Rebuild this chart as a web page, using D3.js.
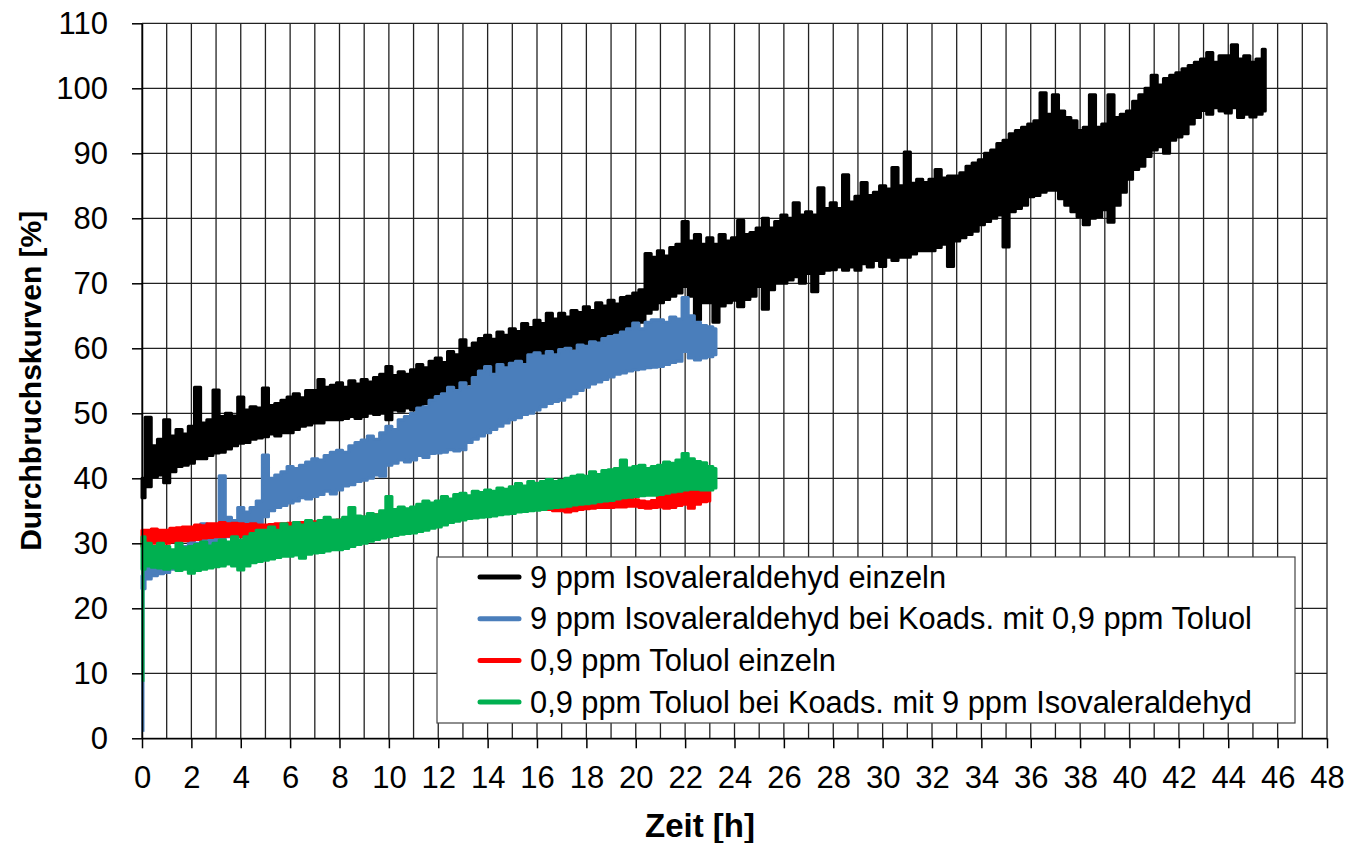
<!DOCTYPE html>
<html>
<head>
<meta charset="utf-8">
<script src="https://cdn.jsdelivr.net/npm/d3@7"></script>
<style>
  body { margin: 0; background: #fff; }
  svg { display: block; font-family: Arial, "Liberation Sans", sans-serif; }
</style>
</head>
<body>
<div id="chart"></div>
<script>
// Durchbruchskurven – Isovaleraldehyd / Toluol, Einzel- und Koadsorption
const xTicks = [0,2,4,6,8,10,12,14,16,18,20,22,24,26,28,30,32,34,36,38,40,42,44,46,48];
const xGrid  = [0,1,2,3,4,5,6,7,8,9,10,11,12,13,14,15,16,17,18,19,20,21,22,23,24,25,26,27,28,29,30,31,32,33,34,35,36,37,38,39,40,41,42,43,44,45,46,47,48];
const yTicks = [0,10,20,30,40,50,60,70,80,90,100,110];

const seriesNames = [
  "9 ppm Isovaleraldehyd einzeln",
  "9 ppm Isovaleraldehyd bei Koads. mit 0,9 ppm Toluol",
  "0,9 ppm Toluol einzeln",
  "0,9 ppm Toluol bei Koads. mit 9 ppm Isovaleraldehyd"
];
const seriesColors = ["#000000", "#4a7ebb", "#ff0000", "#00b050"];

// Messwerte alle 0,25 h: untere und obere Grenze des Rauschbandes [%]
const DT = 0.25;

// schwarz: 9 ppm Isovaleraldehyd einzeln (0 .. 45,5 h)
const blackHi = [
  40,49.4,45,46, 49,46.5,47.5,46.8, 48,54,48.5,49, 53.6,49.5,50,49.6,
  52.5,50.5,51,50.8, 53.9,51.2,51.5,52, 52.5,53,52.4,53.5, 53.5,55.2,54,54.3,
  54.7,54,55,54.5, 55.2,54.8,55.5,56, 57.2,55.8,56.4,56, 56.7,57.5,57,58,
  58.5,57.8,59.5,59, 61.3,60,60.8,61.5, 62,61.4,62.5,62, 63,62.6,63.8,63.2,
  64.3,63.8,65.4,64.5, 65.4,64.8,65.8,65.5, 66.4,65.8,67,66.5, 67.4,66.8,67.8,68,
  68.5,69,74.6,74, 75,74.2,75.5,76, 79.5,76.5,77.5,76, 77,76,77.5,76.5,
  77,79.7,77.5,77.8, 78.5,80,78.5,79.5, 80.5,80,82.4,80.5, 81,80.5,84.7,81.5,
  82.4,81.5,86.7,82.5, 83.4,85.5,83.5,84, 85,84.5,87.8,85, 90.2,85.4,86,85.5,
  86,87.5,86.2,86.5, 86.5,87,88,88.5, 89,90,90.5,91.5, 92,93,93.5,94,
  94.5,95,99.3,96, 99,96.5,95.5,95, 93.5,94,99,94, 94.5,99,95.5,96,
  96.5,98,99,100, 102,100.5,101.5,102, 102.4,103,103.5,104, 104.5,105.5,104,105,
  105,106.7,104.5,105, 104,104.5,106
];
const blackLo = [
  37,38.7,40.2,40.5, 39.3,41,41.8,42, 42.3,43,43,43.5, 43.9,44,44.5,45,
  45.4,45.5,46,46.2, 46.4,46.8,46.5,47, 47,47.5,48,48.2, 48.5,48.5,49,49,
  49,49.2,49.5,49.2, 49.5,50,49.8,50, 49,50.5,50.3,50.8, 50.5,51,51.5,51.8,
  51.6,52.5,53,53.5, 54,54.5,54.8,55, 55.6,55.5,56,56.2, 56.2,56.8,57,57.4,
  57.7,58,58.5,59, 59.3,59.5,60,60, 60.2,60.8,61,61.2, 61.3,62,62.3,62.8,
  63.3,64,65.4,66, 67,67.5,68,68.5, 69.5,68,64.4,67, 67,64,66.5,67,
  67.4,66.4,67.5,68, 69.5,66,69,70, 70,70.5,71,70, 71.5,68.7,71.5,72,
  72.1,72.5,72,72.5, 72,73,72.5,73.5, 72.6,74,73.5,74, 74,74.5,75,75,
  75,75.5,76,72.6, 76.5,77,77.5,78, 79,79.5,80,80.5, 75.6,81,81.5,82,
  83.3,83.5,84,84.3, 84.3,83,82,81, 80.2,79,80,80.2, 81.3,79.4,82,84,
  86,87.5,88,89.5, 90.5,91,90,92, 92.5,93,94.5,95.5, 96.6,96,97,96.5,
  96.2,97,95.5,96, 95.6,96,96.5
];

// blau: 9 ppm Isovaleraldehyd bei Koads. (0 .. 23,25 h)
const blueRise = [1, 23];
const blueHi = [
  25,26.5,27,27.5, 28.5,28,29,29.5, 30.5,30,33,31.5, 32.5,40.4,34,33.5,
  35.5,34.8,35.5,36.5, 43.6,40,40.5,41, 41.8,41.5,42,42.5, 43,42.8,43.5,44,
  44.3,44,45,45.5, 45.9,46.5,46,47, 48,47.5,49,49.5, 50,50.8,51,52,
  52.6,53,54,53.5, 54.7,54,55.5,56.5, 57.2,56,57.5,57, 57.7,58,57.5,59,
  59.3,58.8,59.5,59, 59.8,60,59.5,60.5, 60.3,61,60.8,61.5, 61.8,62,62.5,63,
  63.9,63,64,64.4, 64.4,64,64.8,64.5, 67.8,65,64,63.5, 63.3,63
];
const blueLo = [
  23,24.5,25,25.3, 25.5,26,26.5,27, 27.5,28,28.5,29, 30,30.5,31,31.5,
  32,32.5,33,33, 34.1,35,35.5,35.8, 36.2,36.5,37,36.8, 37.2,37.5,38,37.6,
  38.2,38.8,39,39.5, 39.7,40,40.5,40.3, 42,42.3,42.8,42.5, 42.8,43.5,43.2,43.8,
  43.9,44,44.4,44.2, 44.4,45.5,46,46.5, 47,47.5,48,48.5, 49,49.3,49.8,50,
  50.5,51,51.5,51.8, 52,52.5,53,53.5, 54,54.5,54.8,55.2, 55.6,56,56.2,56.5,
  56.7,56.8,57,57.1, 57.2,57.5,57.8,58, 59.5,58.5,58.2,58.5, 58.7,59
];

// rot: 0,9 ppm Toluol einzeln (0 .. 23 h)
const redHi = [
  32,32,32.2,32, 32,32.3,32.4,32.5, 32.5,32.8,32.7,33, 33,33.2,33,33.1,
  33,32.9,33,32.8, 32.8,32.9,33,33, 33.1,33,33.2,33.3, 33.3,33.4,33.5,33.5,
  33.6,33.7,33.8,34, 34,34.2,34.4,34.6, 34.8,35,35,35.2, 35.3,35.6,35.8,36,
  36.3,36.4,36.6,36.7, 36.8,37,37.2,37.4, 37.5,37.5,37.4,37.5, 37.5,37.6,37.7,37.7,
  37.8,37.6,37.5,37.6, 37.5,37.6,37.7,37.8, 37.8,37.9,38,38, 38,37.2,37,37,
  36.7,36.5,36.4,36.6, 37.2,37.5,37.8,38.2, 38.5,38,38.2,37.9, 38.3
];
const redLo = [
  29.5,29.8,30,30, 30,30.2,30.3,30.4, 30.5,30.6,30.8,30.9, 31,31,31.1,31,
  31,30.9,30.8,30.8, 30.8,31,31.2,31.4, 31.6,31.6,31.7,31.8, 31.8,31.9,32,32,
  32,32.1,32.3,32.4, 32.5,32.6,32.8,32.9, 33,33.1,33.3,33.4, 33.5,33.8,34,34.3,
  34.5,34.6,34.8,34.9, 35,35.1,35.3,35.4, 35.5,35.5,35.5,35.5, 35.5,35.5,35.4,35.5,
  35.5,35.3,35.2,35, 35,34.8,35,35.2, 35.3,35.4,35.5,35.5, 35.5,35.6,35.6,35.7,
  35.7,35.5,35.4,35.5, 35.6,35.4,35.5,35.8, 36,35.4,36,36.4, 36.5
];

// grün: 0,9 ppm Toluol bei Koads. (0 .. 23,25 h)
const greenRise = [8.7, 31];
const greenHi = [
  31,30,29.5,30, 29.5,29,30,29.3, 29.5,29.8,30.2,29.6, 30,30.5,30.2,31,
  30.5,31,31.5,32, 32,32.5,32,33, 32.5,33.2,32.8,33.5, 33.1,33.5,34,33.6,
  33.6,34,35.5,34.2, 34.1,34.6,34.4,35, 37.2,35.2,35.6,35.3, 35.6,36,36.5,36.2,
  36.5,37.2,36.8,37.5, 37.7,37.3,38,37.8, 38.2,38,38.5,38.3, 38.7,39.2,38.8,39.5,
  39.2,39.5,39.8,39.5, 39.7,40,40.3,40.5, 40.3,41,40.6,41.2, 41.3,41.5,42.8,41.6,
  41.8,42,41.5,41.8, 42,42.5,42.3,42.8, 43.8,43,42.6,42.4, 41.8,41.5
];
const greenLo = [
  26,26.5,26.3,26.2, 26,26.2,25.8,26, 25.4,25.8,26,26.2, 26.4,26.5,26.8,26.5,
  25.9,26.5,27,27.2, 27.4,27.6,27.8,28, 28,28.2,27.7,28.3, 28.5,28.6,28.8,29,
  29,29.2,29.5,29.8, 30,30.3,30.6,30.8, 31,31.2,31.4,31.5, 31.6,31.8,32,32.3,
  32.5,32.8,33.2,33.4, 33.6,33.8,33.9,34, 34.1,34.2,34.4,34.5, 34.6,34.8,34.9,35,
  35.1,35.2,35.4,35.5, 35.6,35.7,35.9,36, 36.1,36.2,36.4,36.5, 36.6,36.8,37,37.1,
  37.2,37.3,37.4,37.4, 37.5,37.7,37.9,38, 38.2,38.3,38.3,38.2, 38.2,38.5
];

const W = 1348, H = 843;
const svg = d3.select("#chart").append("svg").attr("width", W).attr("height", H);

const x = d3.scaleLinear().domain([0, 48]).range([142, 1327]);
const y = d3.scaleLinear().domain([0, 110]).range([738.3, 23.3]);

// Gitter
svg.append("g").selectAll("line").data(xGrid).join("line")
  .attr("x1", d => x(d)).attr("x2", d => x(d))
  .attr("y1", y(0)).attr("y2", y(110))
  .attr("stroke", "#222").attr("stroke-width", 1.3);
svg.append("g").selectAll("line").data(yTicks).join("line")
  .attr("x1", x(0)).attr("x2", x(48))
  .attr("y1", d => y(d)).attr("y2", d => y(d))
  .attr("stroke", "#222").attr("stroke-width", 1.3);

// Serien als Rauschband (Treppenkurve -> senkrechte Ausschläge wie im Original)
const band = (lo, hi) => lo.map((v, i) => ({ t: i * DT, lo: v, hi: hi[i] }));
const area = d3.area().x(d => x(d.t)).y0(d => y(d.lo)).y1(d => y(d.hi)).curve(d3.curveStep);

const seriesData = [
  { band: band(blackLo, blackHi), rise: null },
  { band: band(blueLo, blueHi), rise: blueRise },
  { band: band(redLo, redHi), rise: null },
  { band: band(greenLo, greenHi), rise: greenRise }
];

seriesData.forEach((s, i) => {
  const g = svg.append("g");
  g.append("path").datum(s.band)
    .attr("d", area)
    .attr("fill", seriesColors[i])
    .attr("stroke", seriesColors[i])
    .attr("stroke-width", 3)
    .attr("stroke-linejoin", "round");
  if (s.rise) {
    g.append("line")
      .attr("x1", x(0) + 1).attr("x2", x(0) + 1)
      .attr("y1", y(s.rise[0])).attr("y2", y(s.rise[1]))
      .attr("stroke", seriesColors[i]).attr("stroke-width", 3);
  }
});

// Achsen
svg.append("g")
  .attr("transform", `translate(0,${y(0)})`)
  .call(d3.axisBottom(x).tickValues(xTicks).tickSize(10).tickPadding(18).tickSizeOuter(0))
  .call(g => g.selectAll("line").attr("stroke", "#000").attr("stroke-width", 1.5))
  .call(g => g.select(".domain").attr("stroke", "#000").attr("stroke-width", 1.5))
  .call(g => g.selectAll("text").attr("font-size", 31).attr("fill", "#000").attr("font-family", "Arial, 'Liberation Sans', sans-serif"));

svg.append("g")
  .attr("transform", `translate(${x(0)},0)`)
  .call(d3.axisLeft(y).tickValues(yTicks).tickSize(10).tickPadding(24).tickSizeOuter(0))
  .call(g => g.selectAll("line").attr("stroke", "#000").attr("stroke-width", 1.5))
  .call(g => g.select(".domain").attr("stroke", "#000").attr("stroke-width", 1.5))
  .call(g => g.selectAll("text").attr("font-size", 31).attr("fill", "#000").attr("font-family", "Arial, 'Liberation Sans', sans-serif"));

// Achsentitel
svg.append("text")
  .attr("x", 700).attr("y", 837)
  .attr("text-anchor", "middle")
  .attr("font-size", 33).attr("font-weight", "bold")
  .text("Zeit [h]");
svg.append("text")
  .attr("transform", `translate(41,${(y(0) + y(110)) / 2}) rotate(-90)`)
  .attr("text-anchor", "middle")
  .attr("font-size", 30).attr("font-weight", "bold")
  .text("Durchbruchskurven [%]");

// Legende
const lg = svg.append("g");
lg.append("rect")
  .attr("x", 437).attr("y", 557).attr("width", 858).attr("height", 166)
  .attr("fill", "#fff").attr("stroke", "#444").attr("stroke-width", 1.2);
seriesNames.forEach((name, i) => {
  const cy = 577 + i * 41.7;
  lg.append("line")
    .attr("x1", 480).attr("x2", 519).attr("y1", cy).attr("y2", cy)
    .attr("stroke", seriesColors[i]).attr("stroke-width", 5).attr("stroke-linecap", "round");
  lg.append("text")
    .attr("x", 530).attr("y", cy + 10.5)
    .attr("font-size", 30.8).attr("fill", "#000")
    .text(name);
});
</script>
</body>
</html>
